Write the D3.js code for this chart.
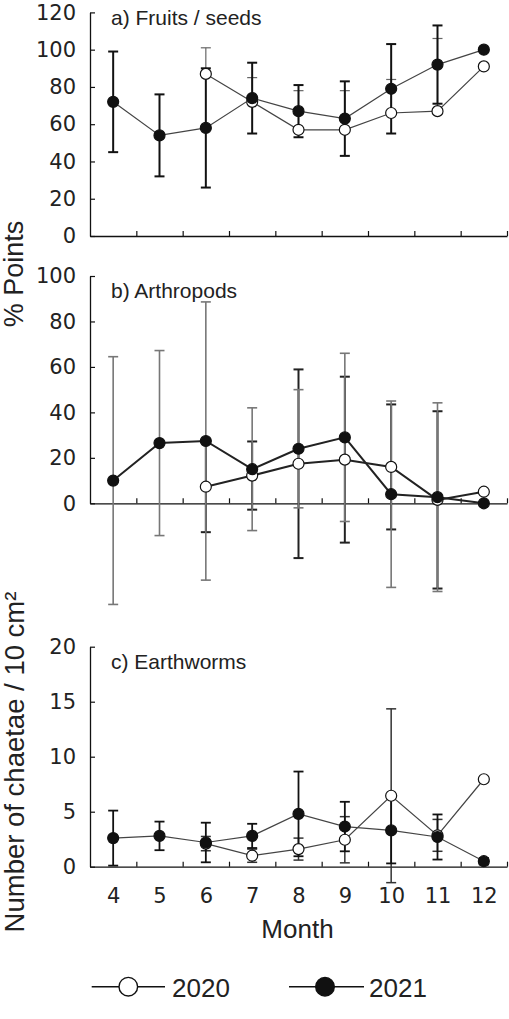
<!DOCTYPE html>
<html>
<head>
<meta charset="utf-8">
<script src="https://cdn.jsdelivr.net/npm/d3@7"></script>
<style>
  html, body { margin: 0; padding: 0; background: #fff; }
  svg { display: block; }
</style>
</head>
<body>
<svg id="chart" width="509" height="1019"></svg>
<script>
// ---- Data ----
const months = [4, 5, 6, 7, 8, 9, 10, 11, 12];

const fruit2020    = [null, null, 87, 72, 57, 57, 66, 67, 91];
const fruit2020Err = [null, null, 14, 13, 21, 21, 18, 39, null];
const fruit2021    = [72, 54, 58, 74, 67, 63, 79, 92, 100];
const fruit2021Err = [27, 22, 32, 19, 14, 20, 24, 21, null];

const arth2020     = [null, null, 7.3, 12.2, 17.4, 19.2, 16, 1.5, 5.1];
const arth2020Err  = [null, null, 20, 15, 41.5, 36.5, 27.5, 39, null];
const arth2021     = [10, 26.5, 27.4, 15, 24, 29, 4, 2.7, 0];
const arth2021Err  = [54.5, 40.7, 61.2, 27, 26, 37, 41, 41.5, null];

const worm2020     = [null, null, 2.1, 1.0, 1.6, 2.45, 6.45, 2.85, 7.95];
const worm2020Err  = [null, null, 0.65, 0.6, 1.0, 2.1, 7.9, 1.45, null];
const worm2021     = [2.6, 2.8, 2.2, 2.8, 4.8, 3.65, 3.3, 2.7, 0.5];
const worm2021Err  = [2.5, 1.3, 1.8, 1.1, 3.85, 2.25, 3.0, 2.05, 0.3];

const fruitTicks = [0, 20, 40, 60, 80, 100, 120];
const arthTicks  = [0, 20, 40, 60, 80, 100];
const wormTicks  = [0, 5, 10, 15, 20];

const panelTitles = ["a) Fruits / seeds", "b) Arthropods", "c) Earthworms"];
const yTitleTop = "% Points";
const yTitleBottom = "Number of chaetae / 10 cm²";
const xTitle = "Month";
const seriesNames = ["2020", "2021"];

// ---- Drawing ----
const svg = d3.select("#chart");
const X0 = 90, X1 = 507;
const x = d3.scaleLinear().domain([3.5, 12.5]).range([X0, X1]);
const boundaries = d3.range(4.5, 12.6, 1);

const TICKFONT = "'DejaVu Sans', Verdana, sans-serif";
const TEXTFONT = "'Liberation Sans', Arial, sans-serif";

function panel(cfg) {
  const y = d3.scaleLinear().domain(cfg.domain).range(cfg.range);
  const g = svg.append("g");

  // y axis
  const ya = g.append("g").attr("transform", `translate(${X0},0)`)
    .call(d3.axisLeft(y).tickValues(cfg.ticks).tickSizeInner(-5).tickSizeOuter(0).tickPadding(14));
  // x axis
  const xa = g.append("g").attr("transform", `translate(0,${y(0)})`)
    .call(d3.axisBottom(x).tickValues(boundaries).tickSizeInner(-5).tickSizeOuter(0).tickFormat(""));
  [ya, xa].forEach(a => {
    a.selectAll("path.domain").attr("stroke", "#111").attr("stroke-width", 1.3);
    a.selectAll(".tick line").attr("stroke", "#111").attr("stroke-width", 1.2);
  });
  ya.selectAll(".tick text").attr("font-family", TICKFONT).attr("font-size", 21).attr("fill", "#222");

  // panel title
  g.append("text").attr("x", 111).attr("y", cfg.titleY)
    .attr("font-family", TEXTFONT).attr("font-size", 21).attr("fill", "#222").text(cfg.title);

  const cap = 5;
  function errBars(vals, errs, style, upperOnly) {
    const data = months.map((m, i) => ({ m, v: vals[i], e: errs[i] })).filter(d => d.v != null && d.e != null);
    const eg = g.append("g").attr("stroke", style.color).attr("stroke-width", style.width).attr("fill", "none");
    data.forEach(d => {
      const cx = x(d.m);
      const top = y(d.v + d.e), bot = upperOnly ? y(d.v) : y(d.v - d.e);
      eg.append("line").attr("x1", cx).attr("x2", cx).attr("y1", top).attr("y2", bot);
      eg.append("line").attr("x1", cx - cap).attr("x2", cx + cap).attr("y1", top).attr("y2", top);
      if (!upperOnly) eg.append("line").attr("x1", cx - cap).attr("x2", cx + cap).attr("y1", bot).attr("y2", bot);
    });
  }
  function series(vals, filled, lineStyle) {
    const data = months.map((m, i) => ({ m, v: vals[i] })).filter(d => d.v != null);
    g.append("path").datum(data)
      .attr("d", d3.line().x(d => x(d.m)).y(d => y(d.v)))
      .attr("fill", "none").attr("stroke", lineStyle.color).attr("stroke-width", lineStyle.width);
    g.append("g").selectAll("circle").data(data).join("circle")
      .attr("cx", d => x(d.m)).attr("cy", d => y(d.v)).attr("r", 5.5)
      .attr("fill", filled ? "#111" : "#fff").attr("stroke", "#111").attr("stroke-width", 1.2);
  }

  errBars(cfg.v20, cfg.e20, cfg.err20, cfg.upperOnly20);
  errBars(cfg.v21, cfg.e21, cfg.err21, false);
  series(cfg.v20, false, cfg.line);
  series(cfg.v21, true, cfg.line);
  return { g, y };
}

panel({
  domain: [0, 120], range: [236, 12.4], ticks: fruitTicks, title: panelTitles[0], titleY: 25,
  v20: fruit2020, e20: fruit2020Err, v21: fruit2021, e21: fruit2021Err,
  err20: { color: "#666", width: 1.2 }, err21: { color: "#111", width: 2 }, upperOnly20: true,
  line: { color: "#444", width: 1.2 }
});

panel({
  domain: [0, 100], range: [503.3, 276], ticks: arthTicks, title: panelTitles[1], titleY: 298,
  v20: arth2020, e20: arth2020Err, v21: arth2021, e21: arth2021Err,
  err20: { color: "#222", width: 2 }, err21: { color: "#777", width: 1.6 }, upperOnly20: false,
  line: { color: "#222", width: 2 }
});

const pc = panel({
  domain: [0, 20], range: [866.7, 646.7], ticks: wormTicks, title: panelTitles[2], titleY: 669,
  v20: worm2020, e20: worm2020Err, v21: worm2021, e21: worm2021Err,
  err20: { color: "#333", width: 1.5 }, err21: { color: "#111", width: 1.8 }, upperOnly20: false,
  line: { color: "#444", width: 1.2 }
});

// month labels under panel c
const ml = svg.append("g").attr("transform", `translate(0,${pc.y(0)})`)
  .call(d3.axisBottom(x).tickValues(months).tickSize(0).tickFormat(d => String(d)));
ml.select("path.domain").remove();
ml.selectAll(".tick text").attr("font-family", TICKFONT).attr("font-size", 21).attr("fill", "#222")
  .attr("y", 36.5).attr("dy", 0);

// axis titles
svg.append("text").attr("transform", "translate(23,274) rotate(-90)")
  .attr("text-anchor", "middle").attr("font-family", TEXTFONT).attr("font-size", 27).attr("fill", "#222")
  .text(yTitleTop);
svg.append("text").attr("transform", "translate(24,762) rotate(-90)")
  .attr("text-anchor", "middle").attr("font-family", TEXTFONT).attr("font-size", 27.5).attr("fill", "#222")
  .text(yTitleBottom);
svg.append("text").attr("x", 297.5).attr("y", 938)
  .attr("text-anchor", "middle").attr("font-family", TEXTFONT).attr("font-size", 26).attr("fill", "#222")
  .text(xTitle);

// legend
const legY = 986.7;
const legItems = [
  { name: seriesNames[0], filled: false, x1: 91.7, x2: 165, cx: 128.3, tx: 172 },
  { name: seriesNames[1], filled: true, x1: 289, x2: 364, cx: 325, tx: 369 }
];
const lg = svg.append("g");
legItems.forEach(it => {
  lg.append("line").attr("x1", it.x1).attr("x2", it.x2).attr("y1", legY).attr("y2", legY)
    .attr("stroke", "#111").attr("stroke-width", 1.6);
  lg.append("circle").attr("cx", it.cx).attr("cy", legY).attr("r", 9.3)
    .attr("fill", it.filled ? "#111" : "#fff").attr("stroke", "#111").attr("stroke-width", 1.4);
  lg.append("text").attr("x", it.tx).attr("y", legY + 10)
    .attr("font-family", TEXTFONT).attr("font-size", 26).attr("fill", "#222").text(it.name);
});
</script>
</body>
</html>
